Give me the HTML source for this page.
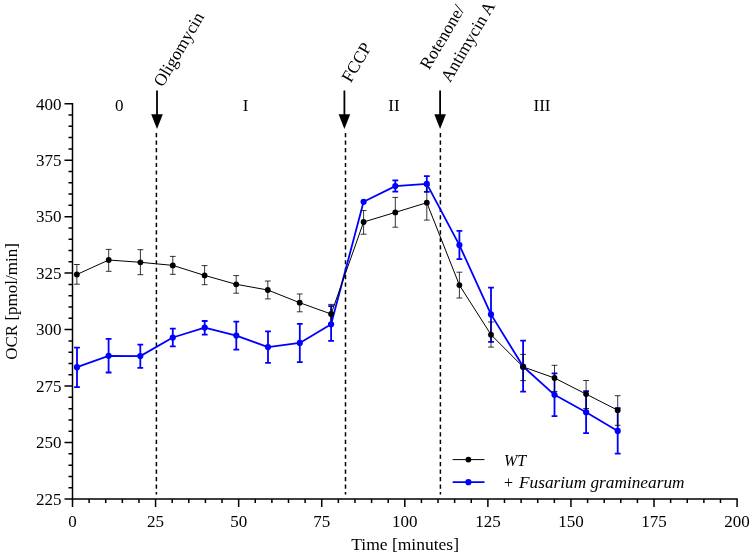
<!DOCTYPE html><html><head><meta charset="utf-8"><style>
html,body{margin:0;padding:0;background:#fff;width:753px;height:556px;overflow:hidden}
svg{display:block;will-change:transform;font-family:"Liberation Serif",serif}
</style></head><body>
<svg width="753" height="556" viewBox="0 0 753 556">
<path d="M72.5 103V506.9M64.5 498.9H737.8M68.5 487.73H72.5M68.5 476.43H72.5M68.5 465.14H72.5M68.5 453.84H72.5M64.5 442.55H72.5M68.5 431.25H72.5M68.5 419.96H72.5M68.5 408.66H72.5M68.5 397.37H72.5M64.5 386.07H72.5M68.5 374.78H72.5M68.5 363.48H72.5M68.5 352.19H72.5M68.5 340.89H72.5M64.5 329.6H72.5M68.5 318.31H72.5M68.5 307.01H72.5M68.5 295.71H72.5M68.5 284.42H72.5M64.5 273.12H72.5M68.5 261.83H72.5M68.5 250.53H72.5M68.5 239.24H72.5M68.5 227.94H72.5M64.5 216.65H72.5M68.5 205.36H72.5M68.5 194.06H72.5M68.5 182.76H72.5M68.5 171.47H72.5M64.5 160.18H72.5M68.5 148.88H72.5M68.5 137.59H72.5M68.5 126.29H72.5M68.5 115H72.5M64.5 103.7H72.5M89.11 498.9V502.9M105.73 498.9V502.9M122.34 498.9V502.9M138.96 498.9V502.9M155.57 498.9V506.9M172.19 498.9V502.9M188.81 498.9V502.9M205.42 498.9V502.9M222.03 498.9V502.9M238.65 498.9V506.9M255.26 498.9V502.9M271.88 498.9V502.9M288.5 498.9V502.9M305.11 498.9V502.9M321.73 498.9V506.9M338.34 498.9V502.9M354.95 498.9V502.9M371.57 498.9V502.9M388.19 498.9V502.9M404.8 498.9V506.9M421.42 498.9V502.9M438.03 498.9V502.9M454.64 498.9V502.9M471.26 498.9V502.9M487.88 498.9V506.9M504.49 498.9V502.9M521.11 498.9V502.9M537.72 498.9V502.9M554.34 498.9V502.9M570.95 498.9V506.9M587.56 498.9V502.9M604.18 498.9V502.9M620.79 498.9V502.9M637.41 498.9V502.9M654.02 498.9V506.9M670.64 498.9V502.9M687.25 498.9V502.9M703.87 498.9V502.9M720.49 498.9V502.9M737.1 498.9V506.9" stroke="#000" stroke-width="1.5" fill="none"/>
<g font-size="17" fill="#000">
<text x="61.5" y="504.7" text-anchor="end">225</text>
<text x="61.5" y="448.35" text-anchor="end">250</text>
<text x="61.5" y="391.88" text-anchor="end">275</text>
<text x="61.5" y="335.4" text-anchor="end">300</text>
<text x="61.5" y="278.93" text-anchor="end">325</text>
<text x="61.5" y="222.45" text-anchor="end">350</text>
<text x="61.5" y="165.98" text-anchor="end">375</text>
<text x="61.5" y="109.5" text-anchor="end">400</text>
<text x="72.5" y="527" text-anchor="middle">0</text>
<text x="155.57" y="527" text-anchor="middle">25</text>
<text x="238.65" y="527" text-anchor="middle">50</text>
<text x="321.73" y="527" text-anchor="middle">75</text>
<text x="404.8" y="527" text-anchor="middle">100</text>
<text x="487.88" y="527" text-anchor="middle">125</text>
<text x="570.95" y="527" text-anchor="middle">150</text>
<text x="654.02" y="527" text-anchor="middle">175</text>
<text x="737.1" y="527" text-anchor="middle">200</text>
</g>
<text x="405.1" y="549.8" font-size="17.5" text-anchor="middle">Time [minutes]</text>
<text transform="translate(17.4 301.5) rotate(-90)" font-size="17" text-anchor="middle">OCR [pmol/min]</text>
<text x="119.3" y="110.5" font-size="17" text-anchor="middle">0</text>
<text x="245.5" y="110.5" font-size="17" text-anchor="middle">I</text>
<text x="394" y="110.5" font-size="17" text-anchor="middle">II</text>
<text x="542" y="110.5" font-size="17" text-anchor="middle">III</text>
<path d="M156.4 133V494.4" stroke="#000" stroke-width="1.5" stroke-dasharray="4.2 3.28"/>
<path d="M157 90.5V116" stroke="#000" stroke-width="1.8"/>
<path d="M151.2 114.3H162.8L157 129.1Z" fill="#000"/>
<path d="M345.5 133V494.4" stroke="#000" stroke-width="1.5" stroke-dasharray="4.2 3.28"/>
<path d="M344.4 90.5V116" stroke="#000" stroke-width="1.8"/>
<path d="M338.6 114.3H350.2L344.4 129.1Z" fill="#000"/>
<path d="M440.4 133V494.4" stroke="#000" stroke-width="1.5" stroke-dasharray="4.2 3.28"/>
<path d="M440.1 90.5V116" stroke="#000" stroke-width="1.8"/>
<path d="M434.3 114.3H445.9L440.1 129.1Z" fill="#000"/>
<g font-size="17.3" fill="#000">
<text transform="translate(162.7 87.8) rotate(-59.5)">Oligomycin</text>
<text transform="translate(350.7 83.5) rotate(-59.5)">FCCP</text>
<text transform="translate(429.1 70.5) rotate(-59.5)">Rotenone/</text>
<text transform="translate(450 83.2) rotate(-59.5)">Antimycin A</text>
</g>
<path d="M77 347.6V387.2M74.1 347.6H79.9M74.1 387.2H79.9M108.6 338.8V372.5M105.7 338.8H111.5M105.7 372.5H111.5M140.3 344.6V367.8M137.4 344.6H143.2M137.4 367.8H143.2M172.8 328.6V346.4M169.9 328.6H175.7M169.9 346.4H175.7M204.7 321V334.6M201.8 321H207.6M201.8 334.6H207.6M236.3 321.6V349.7M233.4 321.6H239.2M233.4 349.7H239.2M268 331.4V362.8M265.1 331.4H270.9M265.1 362.8H270.9M299.8 323.8V362.2M296.9 323.8H302.7M296.9 362.2H302.7M331.1 306.2V340.8M328.2 306.2H334M328.2 340.8H334M395.3 180.4V191.6M392.4 180.4H398.2M392.4 191.6H398.2M426.8 176.1V191.8M423.9 176.1H429.7M423.9 191.8H429.7M459.4 230.8V259.1M456.5 230.8H462.3M456.5 259.1H462.3M491 287.6V341.8M488.1 287.6H493.9M488.1 341.8H493.9M523.1 340.7V391.6M520.2 340.7H526M520.2 391.6H526M554.5 373.4V416.2M551.6 373.4H557.4M551.6 416.2H557.4M586.1 391.1V433.2M583.2 391.1H589M583.2 433.2H589M617.7 408.2V453.6M614.8 408.2H620.6M614.8 453.6H620.6" stroke="#0000ff" stroke-width="1.8" fill="none"/>
<polyline points="77,367.2 108.6,355.8 140.3,356.1 172.8,337.5 204.7,327.6 236.3,335.6 268,347.1 299.8,342.9 331.1,324.3 363.6,201.8 395.3,186.1 426.8,183.9 459.4,245.1 491,314.4 523.1,366.5 554.5,394.8 586.1,412.2 617.7,430.9" stroke="#0000ff" stroke-width="1.8" fill="none" stroke-linejoin="round"/>
<path d="M76.85 264.5V284.2M73.95 264.5H79.75M73.95 284.2H79.75M108.7 249.4V271.3M105.8 249.4H111.6M105.8 271.3H111.6M140.4 249.7V274.7M137.5 249.7H143.3M137.5 274.7H143.3M172.8 256.4V274.3M169.9 256.4H175.7M169.9 274.3H175.7M204.6 265.6V284.7M201.7 265.6H207.5M201.7 284.7H207.5M236.2 275.6V293.2M233.3 275.6H239.1M233.3 293.2H239.1M267.8 281V298.9M264.9 281H270.7M264.9 298.9H270.7M299.7 294V311.8M296.8 294H302.6M296.8 311.8H302.6M331.1 304.4V323.6M328.2 304.4H334M328.2 323.6H334M363.6 210.5V234.2M360.7 210.5H366.5M360.7 234.2H366.5M395.3 197.4V227.2M392.4 197.4H398.2M392.4 227.2H398.2M426.8 185.3V220.1M423.9 185.3H429.7M423.9 220.1H429.7M459.4 272.2V298M456.5 272.2H462.3M456.5 298H462.3M491 322V347.1M488.1 322H493.9M488.1 347.1H493.9M523.1 354.4V380.6M520.2 354.4H526M520.2 380.6H526M554.5 365.3V391.5M551.6 365.3H557.4M551.6 391.5H557.4M586.1 380.5V408.5M583.2 380.5H589M583.2 408.5H589M617.7 395.7V425.3M614.8 395.7H620.6M614.8 425.3H620.6" stroke="#000" stroke-width="0.8" fill="none"/>
<polyline points="76.85,274.5 108.7,260 140.4,262.3 172.8,265.4 204.6,275.4 236.2,284.3 267.8,290 299.7,302.7 331.1,314 363.6,222 395.3,212.4 426.8,202.7 459.4,285.1 491,334.7 523.1,366.9 554.5,378 586.1,394.1 617.7,410.2" stroke="#000" stroke-width="1" fill="none" stroke-linejoin="round"/>
<circle cx="77" cy="367.2" r="3.1" fill="#0000ff"/><circle cx="108.6" cy="355.8" r="3.1" fill="#0000ff"/><circle cx="140.3" cy="356.1" r="3.1" fill="#0000ff"/><circle cx="172.8" cy="337.5" r="3.1" fill="#0000ff"/><circle cx="204.7" cy="327.6" r="3.1" fill="#0000ff"/><circle cx="236.3" cy="335.6" r="3.1" fill="#0000ff"/><circle cx="268" cy="347.1" r="3.1" fill="#0000ff"/><circle cx="299.8" cy="342.9" r="3.1" fill="#0000ff"/><circle cx="331.1" cy="324.3" r="3.1" fill="#0000ff"/><circle cx="363.6" cy="201.8" r="3.1" fill="#0000ff"/><circle cx="395.3" cy="186.1" r="3.1" fill="#0000ff"/><circle cx="426.8" cy="183.9" r="3.1" fill="#0000ff"/><circle cx="459.4" cy="245.1" r="3.1" fill="#0000ff"/><circle cx="491" cy="314.4" r="3.1" fill="#0000ff"/><circle cx="523.1" cy="366.5" r="3.1" fill="#0000ff"/><circle cx="554.5" cy="394.8" r="3.1" fill="#0000ff"/><circle cx="586.1" cy="412.2" r="3.1" fill="#0000ff"/><circle cx="617.7" cy="430.9" r="3.1" fill="#0000ff"/>
<circle cx="76.85" cy="274.5" r="2.9" fill="#000"/><circle cx="108.7" cy="260" r="2.9" fill="#000"/><circle cx="140.4" cy="262.3" r="2.9" fill="#000"/><circle cx="172.8" cy="265.4" r="2.9" fill="#000"/><circle cx="204.6" cy="275.4" r="2.9" fill="#000"/><circle cx="236.2" cy="284.3" r="2.9" fill="#000"/><circle cx="267.8" cy="290" r="2.9" fill="#000"/><circle cx="299.7" cy="302.7" r="2.9" fill="#000"/><circle cx="331.1" cy="314" r="2.9" fill="#000"/><circle cx="363.6" cy="222" r="2.9" fill="#000"/><circle cx="395.3" cy="212.4" r="2.9" fill="#000"/><circle cx="426.8" cy="202.7" r="2.9" fill="#000"/><circle cx="459.4" cy="285.1" r="2.9" fill="#000"/><circle cx="491" cy="334.7" r="2.9" fill="#000"/><circle cx="523.1" cy="366.9" r="2.9" fill="#000"/><circle cx="554.5" cy="378" r="2.9" fill="#000"/><circle cx="586.1" cy="394.1" r="2.9" fill="#000"/><circle cx="617.7" cy="410.2" r="2.9" fill="#000"/>
<path d="M452.6 459.6H484.5" stroke="#000" stroke-width="1"/><circle cx="468.4" cy="459.6" r="2.9" fill="#000"/>
<path d="M452.6 482.2H484.5" stroke="#0000ff" stroke-width="1.8"/><circle cx="468.4" cy="482.2" r="3.1" fill="#0000ff"/>
<text x="504" y="465.7" font-size="16" font-style="italic">WT</text>
<text x="504" y="488.4" font-size="16">+ <tspan x="519" font-style="italic" textLength="165.5" lengthAdjust="spacingAndGlyphs">Fusarium graminearum</tspan></text>
</svg></body></html>
